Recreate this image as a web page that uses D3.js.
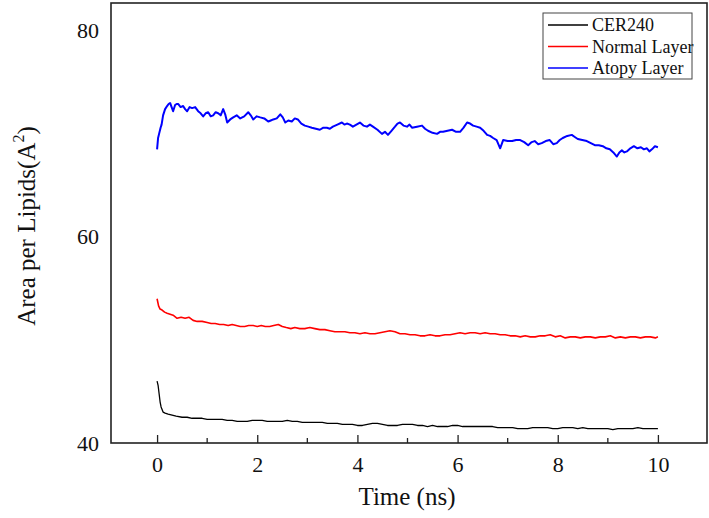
<!DOCTYPE html>
<html><head><meta charset="utf-8">
<script src="https://cdn.jsdelivr.net/npm/d3@7"></script>
<style>body{margin:0;background:#fff}svg{display:block}text{font-family:"Liberation Serif","Times New Roman",serif}</style>
</head><body><svg id="c" width="709" height="518"></svg>
<script>
const seriesNames = ["CER240", "Normal Layer", "Atopy Layer"];
const seriesColors = ["#000000", "#ff0000", "#0000ff"];
const xTicks = [0, 2, 4, 6, 8, 10];
const xMinorTicks = [1, 3, 5, 7, 9];
const yTicks = [40, 60, 80];

const blueT = [0.00,0.02,0.04,0.07,0.09,0.12,0.16,0.20,0.23,0.26,0.29,0.32,0.36,0.39,0.42,0.47,0.52,0.56,0.60,0.65,0.70,0.76,0.82,0.87,0.92,0.97,1.02,1.07,1.12,1.17,1.22,1.27,1.32,1.36,1.40,1.46,1.52,1.59,1.66,1.74,1.82,1.87,1.92,1.99,2.06,2.14,2.22,2.27,2.32,2.39,2.46,2.51,2.56,2.62,2.69,2.75,2.81,2.88,2.95,3.02,3.09,3.17,3.25,3.32,3.39,3.45,3.51,3.60,3.69,3.74,3.79,3.85,3.91,3.98,4.05,4.12,4.19,4.25,4.31,4.40,4.49,4.55,4.61,4.68,4.75,4.80,4.85,4.92,4.99,5.04,5.09,5.19,5.29,5.35,5.41,5.50,5.59,5.65,5.71,5.80,5.89,5.97,6.05,6.12,6.19,6.25,6.31,6.38,6.45,6.52,6.59,6.65,6.71,6.78,6.85,6.91,7.00,7.09,7.17,7.25,7.33,7.41,7.48,7.54,7.61,7.68,7.76,7.84,7.91,7.98,8.04,8.10,8.19,8.28,8.34,8.40,8.49,8.58,8.66,8.74,8.82,8.90,8.97,9.04,9.11,9.18,9.23,9.28,9.33,9.38,9.45,9.52,9.59,9.66,9.72,9.78,9.83,9.88,9.94,10.00];
const blueV = [68.5,69.6,70.0,70.6,70.9,71.8,72.4,72.7,72.9,73.0,72.6,72.2,72.8,72.9,72.9,72.6,72.7,72.4,72.2,72.6,72.5,72.6,72.2,72.0,71.7,72.0,72.1,71.7,71.8,72.1,72.0,71.8,72.4,71.9,71.1,71.4,71.6,71.8,71.5,71.7,72.1,71.8,71.4,71.7,71.6,71.5,71.2,71.3,71.4,71.5,71.9,71.6,71.1,71.3,71.2,71.5,71.4,71.0,70.8,70.7,70.6,70.5,70.4,70.6,70.6,70.5,70.7,70.9,71.1,70.9,71.0,70.9,70.7,70.9,71.1,70.8,70.7,70.9,70.7,70.4,70.0,70.2,69.9,70.3,70.7,71.0,71.1,70.8,70.7,70.9,70.6,70.7,70.8,70.5,70.3,70.1,70.0,70.2,70.2,70.3,70.4,70.2,70.2,70.6,71.1,71.0,70.8,70.7,70.6,70.3,69.9,69.8,69.6,69.4,68.6,69.4,69.3,69.3,69.4,69.4,69.2,68.9,69.2,69.3,69.0,69.1,69.3,69.4,69.0,69.1,69.4,69.6,69.8,69.9,69.7,69.5,69.4,69.3,69.1,68.9,68.9,68.8,68.6,68.5,68.2,67.8,68.2,68.4,68.2,68.3,68.6,68.8,68.6,68.7,68.5,68.6,68.3,68.5,68.8,68.7];

const redT = [0.00,0.03,0.06,0.10,0.15,0.20,0.26,0.32,0.40,0.48,0.56,0.64,0.72,0.80,0.90,1.00,1.08,1.16,1.25,1.33,1.42,1.50,1.58,1.66,1.75,1.83,1.92,2.00,2.08,2.16,2.25,2.33,2.42,2.50,2.58,2.67,2.75,2.85,2.95,3.05,3.15,3.25,3.35,3.45,3.55,3.65,3.75,3.85,3.95,4.05,4.15,4.25,4.35,4.45,4.55,4.65,4.75,4.85,4.95,5.05,5.15,5.25,5.35,5.45,5.55,5.65,5.75,5.85,5.95,6.05,6.15,6.25,6.35,6.45,6.55,6.65,6.75,6.85,6.95,7.05,7.15,7.25,7.35,7.45,7.55,7.65,7.75,7.85,7.95,8.05,8.15,8.25,8.35,8.45,8.55,8.65,8.75,8.85,8.95,9.05,9.15,9.25,9.35,9.45,9.55,9.65,9.75,9.85,9.95,10.00];
const redV = [54.0,53.3,53.0,52.9,52.7,52.6,52.5,52.4,52.1,52.2,52.1,52.2,51.9,51.8,51.8,51.7,51.6,51.6,51.5,51.5,51.4,51.5,51.4,51.3,51.3,51.4,51.4,51.3,51.4,51.3,51.3,51.4,51.5,51.3,51.2,51.1,51.2,51.1,51.1,51.2,51.1,51.0,51.0,50.9,50.8,50.8,50.8,50.7,50.7,50.6,50.7,50.6,50.6,50.7,50.8,50.9,50.8,50.6,50.6,50.5,50.5,50.4,50.4,50.5,50.4,50.4,50.5,50.5,50.6,50.7,50.6,50.7,50.7,50.6,50.7,50.6,50.6,50.5,50.5,50.4,50.4,50.3,50.4,50.3,50.3,50.4,50.4,50.5,50.3,50.4,50.2,50.3,50.3,50.2,50.3,50.3,50.2,50.3,50.3,50.4,50.2,50.3,50.2,50.3,50.3,50.2,50.3,50.3,50.2,50.3];

const blackT = [0.00,0.02,0.04,0.06,0.08,0.12,0.16,0.22,0.30,0.38,0.50,0.60,0.70,0.80,0.90,1.00,1.10,1.20,1.30,1.40,1.50,1.60,1.70,1.80,1.90,2.00,2.10,2.20,2.30,2.40,2.50,2.60,2.70,2.80,2.90,3.00,3.10,3.20,3.30,3.40,3.50,3.60,3.70,3.80,3.90,4.00,4.10,4.20,4.30,4.40,4.50,4.60,4.70,4.80,4.90,5.00,5.10,5.20,5.30,5.40,5.50,5.60,5.70,5.80,5.90,6.00,6.10,6.20,6.30,6.40,6.50,6.60,6.70,6.80,6.90,7.00,7.10,7.20,7.30,7.40,7.50,7.60,7.70,7.80,7.90,8.00,8.10,8.20,8.30,8.40,8.50,8.60,8.70,8.80,8.90,9.00,9.10,9.20,9.30,9.40,9.50,9.60,9.70,9.80,9.90,10.00];
const blackV = [46.0,45.6,44.8,44.0,43.5,43.0,42.9,42.8,42.7,42.6,42.5,42.5,42.4,42.4,42.4,42.3,42.3,42.3,42.3,42.2,42.2,42.1,42.1,42.1,42.2,42.2,42.2,42.1,42.1,42.1,42.1,42.2,42.1,42.1,42.0,42.0,42.0,42.0,42.0,41.9,41.9,41.9,41.8,41.8,41.8,41.7,41.7,41.8,41.9,41.9,41.8,41.7,41.7,41.7,41.8,41.8,41.8,41.7,41.7,41.6,41.7,41.6,41.6,41.6,41.7,41.7,41.6,41.6,41.6,41.6,41.6,41.6,41.6,41.5,41.5,41.5,41.5,41.4,41.4,41.4,41.5,41.5,41.5,41.5,41.4,41.4,41.5,41.5,41.5,41.4,41.5,41.4,41.4,41.4,41.4,41.4,41.3,41.4,41.4,41.4,41.4,41.5,41.4,41.4,41.4,41.4];

const series = [
  {name: seriesNames[0], color: seriesColors[0], t: blackT, v: blackV, w: 1.3},
  {name: seriesNames[1], color: seriesColors[1], t: redT, v: redV, w: 1.6},
  {name: seriesNames[2], color: seriesColors[2], t: blueT, v: blueV, w: 2}
];

const L = 111, R = 707, T = 3, B = 443;
const svg = d3.select("#c");
const x = d3.scaleLinear().domain([-0.92, 10.98]).range([L, R]);
const y = d3.scaleLinear().domain([40, 82.7]).range([B, T]);

const line = d3.line().x(d => x(d[0])).y(d => y(d[1]));
series.forEach(s => {
  const pts = s.t.map((t, i) => [t, s.v[i]]);
  svg.append("path").datum(pts).attr("d", line)
    .attr("fill", "none").attr("stroke", s.color).attr("stroke-width", s.w)
    .attr("stroke-linejoin", "round");
});

const xAxis = d3.axisBottom(x).tickValues(xTicks).tickSize(-8).tickPadding(13).tickFormat(d3.format("d"));
const gx = svg.append("g").attr("transform", `translate(0,${B})`).call(xAxis);
gx.select(".domain").remove();
gx.selectAll(".tick line").attr("stroke", "#222").attr("stroke-width", 1.3);
gx.selectAll("text").attr("font-size", 22).attr("fill", "#111").attr("font-family", "Liberation Serif");
svg.append("g").selectAll("line").data(xMinorTicks).join("line")
  .attr("x1", d => x(d)).attr("x2", d => x(d)).attr("y1", B).attr("y2", B - 5)
  .attr("stroke", "#222").attr("stroke-width", 1.3);

const yAxis = d3.axisLeft(y).tickValues(yTicks).tickSize(0).tickPadding(12).tickFormat(d3.format("d"));
const gy = svg.append("g").attr("transform", `translate(${L},0)`).call(yAxis);
gy.select(".domain").remove();
gy.selectAll("text").attr("font-size", 22).attr("fill", "#111").attr("font-family", "Liberation Serif");

svg.append("rect").attr("x", L).attr("y", T).attr("width", R - L).attr("height", B - T)
  .attr("fill", "none").attr("stroke", "#222").attr("stroke-width", 1.6);

svg.append("text").attr("x", 407).attr("y", 505).attr("text-anchor", "middle")
  .attr("font-size", 25).attr("fill", "#111").text("Time (ns)");
const yt = svg.append("text").attr("transform", "translate(35,226) rotate(-90)")
  .attr("text-anchor", "middle").attr("font-size", 25).attr("fill", "#111");
yt.append("tspan").text("Area per Lipids(A");
yt.append("tspan").attr("dy", -11).attr("font-size", 16).text("2");
yt.append("tspan").attr("dy", 11).text(")");

const lg = svg.append("g");
lg.append("rect").attr("x", 543).attr("y", 13).attr("width", 149).attr("height", 66)
  .attr("fill", "#fff").attr("stroke", "#444").attr("stroke-width", 1);
series.forEach((s, i) => {
  const yy = 25 + i * 21.5;
  lg.append("line").attr("x1", 548).attr("x2", 588).attr("y1", yy).attr("y2", yy)
    .attr("stroke", s.color).attr("stroke-width", 1.3);
  lg.append("text").attr("x", 592).attr("y", yy + 6).attr("font-size", 18).attr("fill", "#111").text(s.name);
});
</script></body></html>
